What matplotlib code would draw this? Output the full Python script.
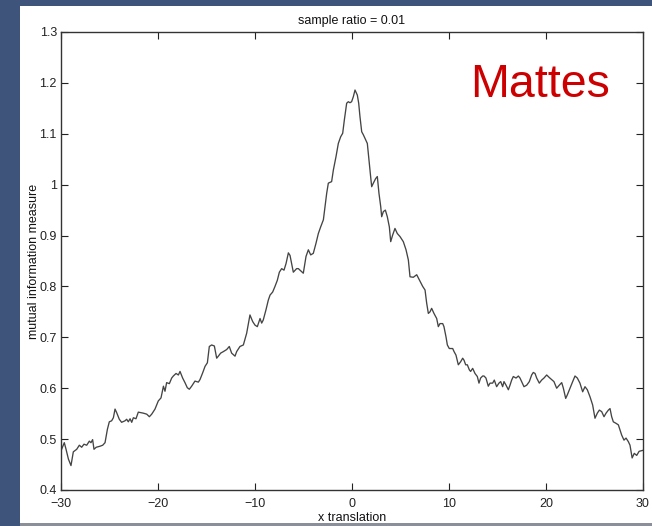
import matplotlib
matplotlib.use("Agg")
import matplotlib.pyplot as plt
from matplotlib.patches import Rectangle

# ---- data ----
x_left = [-30.00, -29.66, -29.48, -29.24, -28.97, -28.73, -28.38, -28.11, -27.87, -27.63,
          -27.35, -27.08, -26.91, -26.74, -26.60, -26.37, -25.98, -25.70, -25.46, -25.22,
          -25.02, -24.78, -24.60, -24.43, -24.26, -23.99, -23.75, -23.40, -23.23, -23.06,
          -22.88, -22.71, -22.54, -22.27, -22.03, -21.51, -21.16, -20.89, -20.65, -20.31,
          -19.97, -19.69, -19.44, -19.28, -19.11, -18.83, -18.59, -18.42, -18.14, -17.90,
          -17.73, -17.46, -17.22, -16.98, -16.77, -16.53, -16.19, -15.84, -15.67, -15.40,
          -15.15, -14.91, -14.71, -14.47, -14.19, -13.95, -13.78, -13.54, -13.26, -12.92,
          -12.65, -12.41, -12.06, -11.89, -11.55, -11.20, -10.86, -10.52, -10.24, -10.00,
          -9.76, -9.48, -9.31, -9.15, -8.87, -8.63, -8.45, -8.18, -7.94, -7.70,
          -7.49, -7.25, -7.01, -6.80, -6.56, -6.39, -6.05, -5.71, -5.53]
y_left = [0.477, 0.493, 0.480, 0.461, 0.448, 0.475, 0.480, 0.488, 0.484, 0.490,
          0.488, 0.496, 0.493, 0.499, 0.480, 0.484, 0.486, 0.488, 0.493, 0.519,
          0.534, 0.536, 0.542, 0.559, 0.552, 0.539, 0.533, 0.536, 0.539, 0.534,
          0.540, 0.533, 0.542, 0.540, 0.553, 0.551, 0.549, 0.544, 0.549, 0.559,
          0.575, 0.581, 0.604, 0.594, 0.611, 0.609, 0.620, 0.624, 0.629, 0.626,
          0.633, 0.620, 0.611, 0.601, 0.598, 0.604, 0.614, 0.612, 0.617, 0.630,
          0.643, 0.650, 0.682, 0.685, 0.683, 0.659, 0.663, 0.669, 0.672, 0.676,
          0.682, 0.669, 0.663, 0.672, 0.682, 0.685, 0.708, 0.744, 0.731, 0.724,
          0.721, 0.737, 0.728, 0.734, 0.754, 0.773, 0.783, 0.789, 0.800, 0.812,
          0.828, 0.835, 0.832, 0.845, 0.866, 0.861, 0.828, 0.835, 0.835]

x_right = [-5.36, -5.02, -4.74, -4.50, -4.26, -3.99, -3.71, -3.47, -3.23, -2.95,
           -2.78, -2.61, -2.44, -2.10, -1.92, -1.65, -1.41, -1.17, -0.96, -0.79,
           -0.55, -0.38, -0.21, -0.04, 0.14, 0.31, 0.55, 0.69, 0.82, 1.00,
           1.17, 1.41, 1.58, 1.75, 1.92, 2.03, 2.20, 2.44, 2.61, 2.78,
           2.96, 3.06, 3.23, 3.44, 3.64, 3.85, 3.99, 4.19, 4.43, 4.67,
           4.95, 5.29, 5.57, 5.81, 5.98, 6.32, 6.67, 6.94, 7.29, 7.53,
           7.70, 7.87, 8.04, 8.21, 8.45, 8.73, 8.90, 9.07, 9.35, 9.48,
           9.69, 9.83, 10.03, 10.38, 10.52, 10.72, 10.96, 11.20, 11.41, 11.55,
           11.72, 11.89, 12.10, 12.23, 12.44, 12.68, 12.92, 13.09, 13.26, 13.47,
           13.61, 13.81, 14.05, 14.23, 14.50, 14.67, 14.91, 15.15, 15.33, 15.53,
           15.67, 15.88, 16.12, 16.29, 16.46, 16.63, 16.91, 17.15, 17.32, 17.49,
           17.73, 18.01, 18.28, 18.52, 18.69, 18.87, 19.04, 19.31, 19.55, 19.79,
           20.07, 20.34, 20.58, 20.82, 21.10, 21.37, 21.62, 21.79, 22.03, 22.20,
           22.47, 22.75, 22.99, 23.23, 23.50, 23.78, 24.02, 24.26, 24.54, 24.81,
           25.05, 25.29, 25.50, 25.74, 25.98, 26.19, 26.43, 26.60, 26.77, 26.94,
           27.22, 27.46, 27.63, 27.80, 28.04, 28.25, 28.49, 28.66,
           28.88, 29.10, 29.35, 29.60, 30.00]
y_right = [0.832, 0.826, 0.859, 0.872, 0.862, 0.865, 0.885, 0.904, 0.917, 0.931,
           0.957, 0.983, 1.003, 1.006, 1.029, 1.055, 1.081, 1.094, 1.101, 1.127,
           1.160, 1.163, 1.161, 1.163, 1.173, 1.186, 1.176, 1.160, 1.134, 1.104,
           1.098, 1.088, 1.081, 1.048, 1.016, 0.996, 1.003, 1.012, 1.016, 0.983,
           0.957, 0.937, 0.947, 0.950, 0.937, 0.917, 0.888, 0.901, 0.914, 0.904,
           0.898, 0.888, 0.872, 0.852, 0.819, 0.818, 0.823, 0.813, 0.800, 0.793,
           0.767, 0.747, 0.750, 0.757, 0.747, 0.737, 0.721, 0.727, 0.727, 0.721,
           0.701, 0.685, 0.678, 0.678, 0.672, 0.665, 0.646, 0.652, 0.659, 0.655,
           0.646, 0.646, 0.636, 0.633, 0.639, 0.629, 0.623, 0.610, 0.620, 0.624,
           0.624, 0.620, 0.604, 0.610, 0.610, 0.616, 0.603, 0.610, 0.613, 0.603,
           0.613, 0.606, 0.597, 0.606, 0.616, 0.623, 0.620, 0.624, 0.620, 0.613,
           0.603, 0.606, 0.613, 0.626, 0.631, 0.629, 0.620, 0.610, 0.616, 0.620,
           0.626, 0.621, 0.617, 0.613, 0.600, 0.606, 0.611, 0.600, 0.580, 0.587,
           0.600, 0.613, 0.624, 0.620, 0.610, 0.593, 0.603, 0.597, 0.583, 0.567,
           0.541, 0.551, 0.557, 0.554, 0.544, 0.551, 0.557, 0.560, 0.544, 0.534,
           0.531, 0.528, 0.518, 0.508, 0.498, 0.502, 0.495, 0.488,
           0.463, 0.472, 0.468, 0.476, 0.478]

x_ticks = [-30, -20, -10, 0, 10, 20, 30]
y_ticks = [0.4, 0.5, 0.6, 0.7, 0.8, 0.9, 1.0, 1.1, 1.2, 1.3]
y_tick_labels = ["0.4", "0.5", "0.6", "0.7", "0.8", "0.9", "1", "1.1", "1.2", "1.3"]

title_text = "sample ratio = 0.01"
x_label = "x translation"
y_label = "mutual information measure"
overlay_text = "Mattes"

# ---- figure ----
W, H = 652, 526
plt.rcParams['font.family'] = ['Liberation Sans', 'DejaVu Sans']
fig = plt.figure(figsize=(W / 100, H / 100), dpi=100, facecolor='#3f547a')

# white panel of the slide (drawn beneath the axes)
fig.patches.append(Rectangle((20 / W, 3 / H), (W - 20) / W, (523 - 6) / H,
                             transform=fig.transFigure, facecolor='white',
                             edgecolor='none', zorder=-10))
fig.patches.append(Rectangle((20 / W, 0), (W - 20) / W, 3 / H,
                             transform=fig.transFigure, facecolor='#8a8f98',
                             edgecolor='none', zorder=-10))

ax = fig.add_axes([61 / W, (H - 490) / H, (643 - 61) / W, (490 - 32) / H])
ax.set_zorder(5)
ax.set_facecolor('white')

ax.plot(x_left + x_right, y_left + y_right, color='#444444', lw=0.95)

ax.set_xlim(-30, 30)
ax.set_ylim(0.4, 1.3)
ax.set_xticks(x_ticks)
ax.set_yticks(y_ticks)
ax.set_yticklabels(y_tick_labels)
ax.tick_params(direction='in', top=True, right=True, length=5, width=0.8,
               colors='#222222', labelsize=9)
ax.tick_params(axis='y', pad=3)
ax.tick_params(axis='x', pad=5.5)
for s in ax.spines.values():
    s.set_color('#333333')
    s.set_linewidth(1.0)

ax.set_title(title_text, fontsize=9, pad=6, color='#111111')
ax.set_xlabel(x_label, fontsize=9, labelpad=1.5, color='#111111')
ax.set_ylabel(y_label, fontsize=9, labelpad=-0.5, color='#111111')

ax.text(0.703, 0.859, overlay_text, transform=ax.transAxes, fontsize=33.5,
        color='#cc0000', ha='left', va='baseline')

fig.savefig('out.png', dpi=100, facecolor=fig.get_facecolor())
